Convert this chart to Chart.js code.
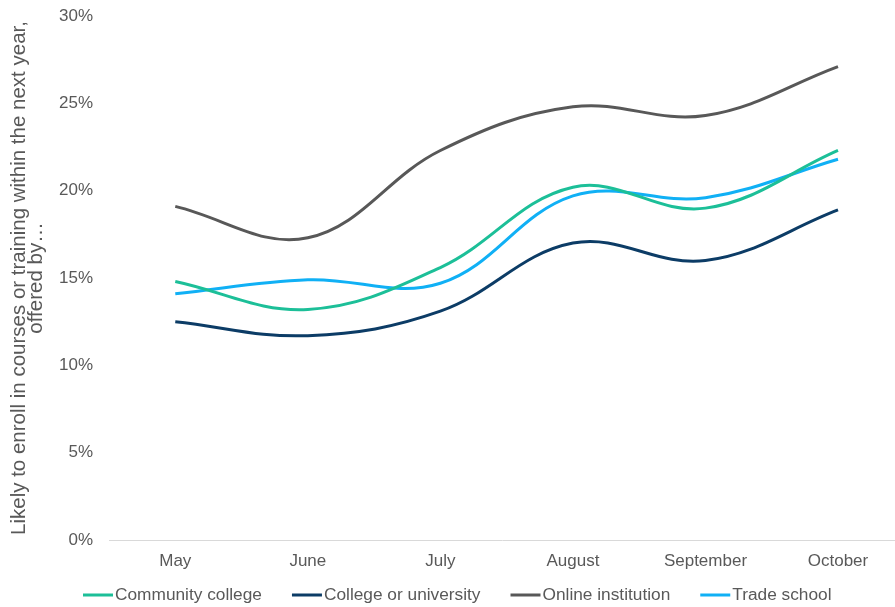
<!DOCTYPE html>
<html>
<head>
<meta charset="utf-8">
<script src="https://cdn.jsdelivr.net/npm/chart.js@4/dist/chart.umd.min.js"></script>
<style>
  html, body { margin: 0; padding: 0; background: #fff; }
  #wrap { width: 895px; height: 607px; }
</style>
</head>
<body>
<div id="wrap"><canvas id="chartEnroll" width="895" height="607"></canvas></div>
<script>
// ========== Dados ==========
const months = ['May', 'June', 'July', 'August', 'September', 'October'];
const communityCollege = [14.8, 13.2, 15.6, 20.2, 19.0, 22.3];
const collegeUniversity = [12.5, 11.7, 13.1, 17.0, 16.0, 18.9];
const onlineInstitution = [19.1, 17.3, 22.3, 24.8, 24.3, 27.1];
const tradeSchool = [14.1, 14.9, 14.7, 19.7, 19.6, 21.8];
const yTicks = [0, 5, 10, 15, 20, 25, 30];

const textColor = '#595959';
const fontFamily = "'Liberation Sans', Arial, sans-serif";
Chart.defaults.font.family = fontFamily;
Chart.defaults.font.size = 17;
Chart.defaults.color = textColor;

const toPoints = arr => arr.map((v, i) => ({ x: i, y: v }));

function serie(label, values, color) {
  return {
    label,
    data: toPoints(values),
    borderColor: color,
    backgroundColor: color,
    borderWidth: 3,
    pointRadius: 0,
    tension: 0.38,
    fill: false
  };
}

// legenda em linha: traço + texto colado, como no estilo do Excel
const lineLegend = {
  id: 'lineLegend',
  afterDraw(chart) {
    const { ctx } = chart;
    const y = 595;
    let x = 83;
    ctx.save();
    ctx.font = '17.3px ' + fontFamily;
    ctx.textBaseline = 'middle';
    ctx.textAlign = 'left';
    chart.data.datasets.forEach(ds => {
      ctx.strokeStyle = ds.borderColor;
      ctx.lineWidth = 3;
      ctx.beginPath();
      ctx.moveTo(x, y);
      ctx.lineTo(x + 30, y);
      ctx.stroke();
      x += 32;
      ctx.fillStyle = textColor;
      ctx.fillText(ds.label, x, y);
      x += ctx.measureText(ds.label).width + 30;
    });
    ctx.restore();
  }
};

new Chart(document.getElementById('chartEnroll'), {
  type: 'line',
  data: {
    datasets: [
      serie('Community college', communityCollege, '#1CBF98'),
      serie('College or university', collegeUniversity, '#0C3C66'),
      serie('Online institution', onlineInstitution, '#585858'),
      serie('Trade school', tradeSchool, '#10B0F5')
    ]
  },
  options: {
    responsive: false,
    animation: false,
    layout: { padding: { top: 16, left: 0, right: 0, bottom: 34 } },
    plugins: {
      tooltip: { enabled: false },
      legend: { display: false }
    },
    scales: {
      x: {
        type: 'linear',
        min: -0.5,
        max: 5.43,
        afterFit(scale) { scale.height = 33; },
        grid: { display: false, drawTicks: false },
        border: { display: true, color: '#d9d9d9', width: 1 },
        ticks: {
          stepSize: 1,
          includeBounds: false,
          autoSkip: false,
          maxRotation: 0,
          padding: 11,
          color: textColor,
          callback: v => months[v] ?? ''
        }
      },
      y: {
        min: 0,
        max: 30,
        afterFit(scale) {
          scale.width = 109;
          scale.paddingTop = 0;
          scale.paddingBottom = 0;
        },
        afterBuildTicks(scale) { scale.ticks = yTicks.map(v => ({ value: v })); },
        grid: { display: false, drawTicks: false },
        border: { display: false },
        ticks: {
          padding: 16,
          color: textColor,
          callback: v => v + '%'
        },
        title: {
          display: true,
          text: ['Likely to enroll in courses or training within the next year,', 'offered by…'],
          color: textColor,
          font: { size: 20.5, lineHeight: 0.83 },
          padding: { top: 10.5, bottom: 0 }
        }
      }
    }
  },
  plugins: [lineLegend]
});
</script>
</body>
</html>
